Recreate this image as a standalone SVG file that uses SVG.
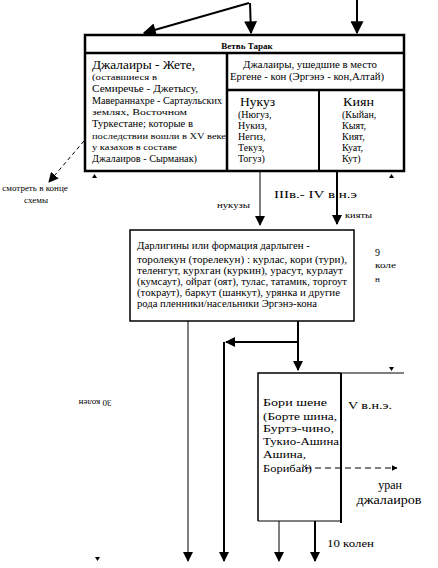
<svg xmlns="http://www.w3.org/2000/svg" width="438" height="568" viewBox="0 0 438 568">
<defs>
<marker id="ah" viewBox="0 0 10 10" refX="9" refY="5" markerWidth="6" markerHeight="6" markerUnits="userSpaceOnUse" orient="auto"><path d="M0,0 L10,5 L0,10 z" fill="#000"/></marker>
<marker id="ahb" viewBox="0 0 10 10" refX="9" refY="5" markerWidth="14" markerHeight="13" markerUnits="userSpaceOnUse" orient="auto"><path d="M0,0 L10,5 L0,10 z" fill="#000"/></marker>
<marker id="ahm" viewBox="0 0 10 10" refX="9" refY="5" markerWidth="10" markerHeight="10" markerUnits="userSpaceOnUse" orient="auto"><path d="M0,0 L10,5 L0,10 z" fill="#000"/></marker>
</defs>
<style>
text{font-family:"Liberation Serif","Times New Roman",serif;fill:#000}
.s9{font-size:9px}
.s10{font-size:10px}
.s11{font-size:11px}
.s12{font-size:12px}
.b{font-weight:bold}
.thin{stroke:#000;stroke-width:1;fill:none}
.thick{stroke:#000;stroke-width:2;fill:none}
.frame{stroke:#000;stroke-width:2.5;fill:#fff}
</style>
<rect width="438" height="568" fill="#fff"/>

<g id="connectors">
<path class="thick" d="M249,3 L144,33" marker-end="url(#ahb)"/>
<path class="thick" d="M250,3 L251,33" marker-end="url(#ahb)"/>
<path class="thick" d="M357,0 L357,33" marker-end="url(#ahb)"/>
<path class="thin" d="M84,141 L49,182" stroke-dasharray="4,3" marker-end="url(#ahm)"/>
<path d="M92,178 L97,178 L94.5,174 z" fill="#000"/>
<path d="M389,178 L394,178 L391.5,174 z" fill="#000"/>
<path class="thin" d="M260,172 L260,225" marker-end="url(#ahm)"/>
<path class="thick" d="M337,172 L337,224" marker-end="url(#ahm)"/>
<path class="thin" d="M188,321 L188,561" marker-end="url(#ahm)"/>
<path class="thick" d="M298,321 L298,370" marker-end="url(#ahm)"/>
<path class="thick" d="M298,342 L226,342" marker-end="url(#ahm)"/>
<path class="thick" d="M224,342 L224,561" marker-end="url(#ahm)"/>
<path class="thin" d="M341,373 L404,373"/>
<path d="M389,367 L394,367 L391.5,371 z" fill="#000"/>
<path class="thin" d="M305,468 L397,468" stroke-dasharray="6,4" marker-end="url(#ah)"/>
<path class="thin" d="M279,521 L279,561" marker-end="url(#ahm)"/>
<path class="thick" d="M315,521 L315,561" marker-end="url(#ahm)"/>
<path d="M95,557 L100,557 L97.5,561 z" fill="#000"/>
</g>

<g id="table-tarak">
<rect class="frame" x="85" y="35" width="319" height="136"/>
<line x1="85" y1="53" x2="404" y2="53" stroke="#000" stroke-width="2.5"/>
<line x1="227" y1="53" x2="227" y2="171" stroke="#000" stroke-width="2.5"/>
<line x1="227" y1="90" x2="404" y2="90" stroke="#000" stroke-width="2.5"/>
<line x1="319" y1="90" x2="319" y2="171" stroke="#000" stroke-width="2"/>
<text class="s9 b" x="247" y="49" text-anchor="middle">Ветвь Тарак</text>
<text class="s12" x="92" y="69" textLength="103" lengthAdjust="spacingAndGlyphs">Джалаиры - Жете,</text>
<text class="s9" x="92" y="80" textLength="65" lengthAdjust="spacingAndGlyphs">(оставшиеся в</text>
<text class="s11" x="92" y="92" textLength="106" lengthAdjust="spacingAndGlyphs">Семиречье - Джетысу,</text>
<text class="s11" x="92" y="104" textLength="130" lengthAdjust="spacingAndGlyphs">Мавераннахре - Сартаульских</text>
<text class="s9" x="92" y="115" textLength="95" lengthAdjust="spacingAndGlyphs">землях, Восточном</text>
<text class="s11" x="92" y="127" textLength="101" lengthAdjust="spacingAndGlyphs">Туркестане; которые в</text>
<text class="s9" x="92" y="139" textLength="134" lengthAdjust="spacingAndGlyphs">последствии вошли в XV веке</text>
<text class="s9" x="92" y="150" textLength="85" lengthAdjust="spacingAndGlyphs">у казахов в составе</text>
<text class="s11" x="92" y="162" textLength="105" lengthAdjust="spacingAndGlyphs">Джалаиров - Сырманак)</text>
<text class="s10" x="243" y="68" textLength="134" lengthAdjust="spacingAndGlyphs">Джалаиры, ушедшие в место</text>
<text class="s10" x="230" y="80" textLength="154" lengthAdjust="spacingAndGlyphs">Ергене - кон (Эргэнэ - кон,Алтай)</text>
<text class="s12" x="240" y="106" textLength="35" lengthAdjust="spacingAndGlyphs">Нукуз</text>
<text class="s10" x="238" y="118">(Нюгуз,</text>
<text class="s10" x="238" y="129">Нукиз,</text>
<text class="s10" x="238" y="140">Негиз,</text>
<text class="s10" x="238" y="151">Текуз,</text>
<text class="s10" x="238" y="162">Тогуз)</text>
<text class="s12" x="343" y="106" textLength="31" lengthAdjust="spacingAndGlyphs">Киян</text>
<text class="s10" x="342" y="118">(Кыйан,</text>
<text class="s10" x="342" y="129">Кыят,</text>
<text class="s10" x="342" y="140">Кият,</text>
<text class="s10" x="342" y="151">Куат,</text>
<text class="s10" x="342" y="162">Кут)</text>
</g>

<g id="note-end">
<text class="s9" x="35" y="191" text-anchor="middle">смотреть в конце</text>
<text class="s9" x="36" y="203" text-anchor="middle">схемы</text>
</g>

<g id="labels-middle">
<text class="s9" x="217" y="208" textLength="33" lengthAdjust="spacingAndGlyphs">нукузы</text>
<text class="s10" x="274" y="198" textLength="83" lengthAdjust="spacingAndGlyphs">IIIв.- IV  в.н.э</text>
<text class="s9" x="345" y="218" textLength="27" lengthAdjust="spacingAndGlyphs">кияты</text>
</g>

<g id="box-darlygin">
<rect x="130" y="230" width="224" height="91" fill="#fff" stroke="#000" stroke-width="1.5"/>
<text class="s10" x="137" y="249" textLength="173" lengthAdjust="spacingAndGlyphs">Дарлигины или формация дарлыген -</text>
<text class="s10" x="137" y="263" textLength="210" lengthAdjust="spacingAndGlyphs">торолекун (торелекун) : курлас, кори (тури),</text>
<text class="s10" x="137" y="274" textLength="206" lengthAdjust="spacingAndGlyphs">теленгут, курхган (куркин), урасут, курлаут</text>
<text class="s10" x="137" y="285" textLength="210" lengthAdjust="spacingAndGlyphs">(кумсаут), ойрат (оят), тулас, татамик, торгоут</text>
<text class="s10" x="137" y="296" textLength="203" lengthAdjust="spacingAndGlyphs">(токраут), баркут (шанкут), урянка и другие</text>
<text class="s10" x="137" y="307" textLength="180" lengthAdjust="spacingAndGlyphs">рода  пленники/насельники Эргэнэ-кона</text>
</g>

<g id="label-9">
<text class="s10" x="375" y="256">9</text>
<text class="s9" x="375" y="268" textLength="21" lengthAdjust="spacingAndGlyphs">коле</text>
<text class="s9" x="375" y="282">н</text>
</g>

<g id="label-30">
<text class="s9" x="95" y="403" text-anchor="middle" transform="rotate(180 95 403)" dy="3">30 колен</text>
</g>

<g id="box-bori">
<path d="M258,521 L258,373 L341,373" fill="none" stroke="#000" stroke-width="1.5"/>
<path d="M258,521 L341,521" fill="none" stroke="#000" stroke-width="1"/>
<path d="M341,373 L341,523" fill="none" stroke="#000" stroke-width="2"/>
<text class="s11" x="263" y="406" textLength="64" lengthAdjust="spacingAndGlyphs">Бори шене</text>
<text class="s11" x="263" y="420" textLength="74" lengthAdjust="spacingAndGlyphs">(Борте шина,</text>
<text class="s11" x="263" y="432" textLength="71" lengthAdjust="spacingAndGlyphs">Буртэ-чино,</text>
<text class="s11" x="263" y="445" textLength="76" lengthAdjust="spacingAndGlyphs">Тукио-Ашина</text>
<text class="s11" x="263" y="458" textLength="43" lengthAdjust="spacingAndGlyphs">Ашина,</text>
<text class="s11" x="263" y="472" textLength="49" lengthAdjust="spacingAndGlyphs">Борибай)</text>
</g>

<g id="labels-bottom">
<text class="s10" x="348" y="409" textLength="44" lengthAdjust="spacingAndGlyphs">V  в.н.э.</text>
<text class="s12" x="390" y="489" text-anchor="middle">уран</text>
<text class="s12" x="389" y="504" text-anchor="middle" textLength="65" lengthAdjust="spacingAndGlyphs">джалаиров</text>
<text class="s10" x="327" y="547" textLength="47" lengthAdjust="spacingAndGlyphs">10 колен</text>
</g>
</svg>
